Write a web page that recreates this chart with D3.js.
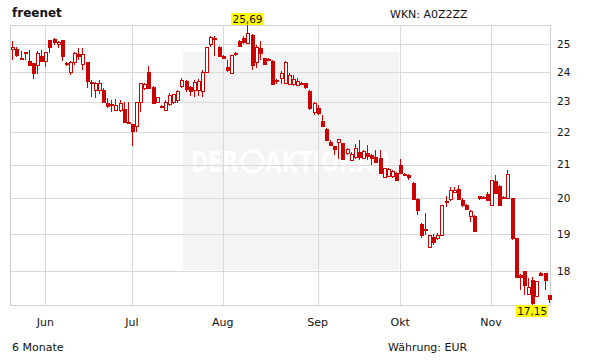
<!DOCTYPE html>
<html>
<head>
<meta charset="utf-8">
<script src="https://cdn.jsdelivr.net/npm/d3@7"></script>
<style>
    body { margin: 0; background: #fff; }
    svg text { font-family: "DejaVu Sans", Verdana, sans-serif; fill: #111; }
</style>
</head>
<body>
<svg id="chart" width="611" height="364"></svg>
<script>
// freenet - 6 Monate Kerzenchart (D3.js v7)

const opens = [
    24.81, 24.82, 24.50, 24.70, 24.39, 24.31, 24.25, 24.57, 24.39, 25.15,
    25.18, 24.99, 25.15, 24.32, 23.99, 24.35, 24.62, 24.29, 24.35, 23.67,
    23.39, 23.39, 23.39, 22.97, 22.92, 22.73, 22.73, 22.76, 22.35, 22.27,
    22.22, 23.00, 23.46, 24.02, 23.50, 22.98, 22.87, 22.73, 22.91, 23.00,
    23.06, 23.51, 23.70, 23.50, 23.39, 23.39, 23.37, 24.02, 24.99, 25.23,
    24.88, 24.55, 24.19, 23.97, 24.66, 25.11, 25.21, 25.03, 25.33, 24.37,
    24.85, 24.49, 24.46, 24.39, 23.72, 23.80, 23.62, 23.60, 23.60, 23.56,
    23.62, 23.62, 23.37, 22.67, 22.78, 22.37, 22.10, 21.70, 21.56, 21.71,
    21.66, 21.37, 21.14, 21.22, 21.38, 21.19, 21.37, 21.30, 21.24, 21.21,
    20.62, 20.65, 20.66, 20.74, 20.99, 20.72, 20.69, 20.46, 19.99, 19.27,
    19.15, 18.65, 18.92, 18.88, 18.97, 19.93, 19.98, 20.19, 20.29, 19.97,
    19.82, 19.50, 19.50, 20.07, 20.05, 20.12, 19.81, 20.51, 20.37, 20.05,
    20.02, 20.00, 18.88, 17.92, 18.00, 17.43, 17.78, 17.38, 17.95, 17.95,
    17.39
];
const highs = [
    25.11, 24.89, 24.75, 24.71, 24.78, 24.32, 24.76, 24.78, 24.72, 25.15,
    25.22, 25.11, 25.15, 24.36, 24.39, 24.71, 24.86, 24.85, 24.36, 23.73,
    23.66, 23.73, 23.46, 23.12, 23.06, 23.09, 23.06, 23.00, 23.00, 22.28,
    23.00, 23.62, 23.62, 24.22, 23.52, 23.16, 22.89, 23.06, 23.29, 23.26,
    23.39, 23.80, 23.73, 23.52, 23.73, 23.77, 24.08, 24.89, 25.29, 25.29,
    24.93, 24.61, 24.43, 24.61, 24.71, 25.15, 25.29, 25.69, 25.36, 24.96,
    25.12, 24.50, 24.50, 24.43, 23.77, 24.04, 24.39, 23.97, 23.90, 23.80,
    23.66, 23.63, 23.39, 22.99, 22.89, 22.56, 22.14, 21.76, 21.58, 21.79,
    21.67, 21.51, 21.38, 21.64, 21.76, 21.45, 21.60, 21.33, 21.45, 21.45,
    20.90, 20.89, 20.85, 20.77, 21.16, 20.75, 20.72, 20.48, 20.00, 19.31,
    19.58, 18.97, 18.99, 19.02, 19.81, 20.06, 20.33, 20.34, 20.39, 20.00,
    19.84, 19.67, 19.53, 20.07, 20.07, 20.20, 20.54, 20.69, 20.39, 20.07,
    20.84, 20.00, 18.90, 17.93, 18.00, 17.82, 17.85, 17.75, 17.98, 17.96,
    17.39
];
const lows = [
    24.43, 24.53, 24.44, 24.43, 24.25, 23.77, 23.92, 24.39, 24.18, 24.68,
    24.96, 24.86, 24.40, 24.22, 23.90, 24.25, 24.43, 24.08, 23.45, 23.17,
    23.13, 23.26, 22.99, 22.80, 22.66, 22.69, 22.66, 22.35, 22.30, 21.56,
    22.02, 22.67, 23.39, 23.45, 22.94, 22.96, 22.82, 22.69, 22.86, 22.93,
    22.96, 23.45, 23.33, 23.19, 23.16, 23.19, 23.16, 24.00, 24.90, 24.55,
    24.53, 24.46, 24.02, 23.97, 24.57, 24.89, 25.00, 25.02, 24.08, 24.13,
    24.43, 24.25, 24.39, 23.60, 23.60, 23.60, 23.60, 23.56, 23.53, 23.53,
    23.56, 23.43, 22.73, 22.56, 22.56, 22.18, 21.73, 21.58, 21.30, 21.18,
    21.14, 21.30, 21.11, 21.18, 21.14, 21.17, 21.14, 20.99, 21.06, 20.72,
    20.61, 20.63, 20.60, 20.52, 20.74, 20.65, 20.54, 19.99, 19.53, 18.88,
    18.97, 18.62, 18.70, 18.83, 18.94, 19.76, 19.93, 20.15, 19.96, 19.76,
    19.67, 19.34, 19.08, 19.95, 19.98, 19.95, 19.81, 20.15, 19.81, 19.98,
    19.99, 18.83, 17.84, 17.52, 17.40, 17.39, 17.15, 17.36, 17.88, 17.52,
    17.20
];
const closes = [
    24.88, 24.59, 24.45, 24.67, 24.25, 23.98, 24.67, 24.39, 24.72, 24.88,
    25.08, 25.08, 24.57, 24.29, 24.37, 24.69, 24.58, 24.64, 23.71, 23.62,
    23.62, 23.64, 23.00, 22.87, 22.89, 22.89, 22.97, 22.35, 22.32, 22.05,
    23.00, 23.62, 23.59, 23.45, 22.95, 23.15, 22.84, 23.00, 23.22, 23.25,
    23.36, 23.73, 23.42, 23.36, 23.66, 23.70, 24.02, 24.88, 25.26, 25.16,
    24.57, 24.49, 24.08, 24.61, 24.63, 24.93, 25.05, 25.41, 24.25, 24.88,
    24.67, 24.28, 24.43, 23.60, 23.68, 23.98, 24.37, 23.90, 23.76, 23.71,
    23.59, 23.48, 22.78, 22.97, 22.62, 22.21, 21.76, 21.60, 21.48, 21.78,
    21.16, 21.47, 21.34, 21.50, 21.22, 21.42, 21.25, 21.19, 21.09, 20.74,
    20.89, 20.86, 20.82, 20.55, 20.74, 20.69, 20.64, 19.99, 19.67, 18.97,
    19.10, 18.97, 18.79, 18.97, 19.81, 19.89, 20.25, 20.26, 19.99, 19.82,
    19.69, 19.64, 19.08, 20.00, 20.00, 19.95, 20.54, 20.17, 19.81, 20.00,
    20.71, 18.88, 17.86, 17.86, 17.65, 17.60, 17.19, 17.75, 17.92, 17.78,
    17.31
];

const monthLabels = ['Jun', 'Jul', 'Aug', 'Sep', 'Okt', 'Nov'];
const monthIdx = [8, 29, 51, 74, 94, 116];
const priceTicks = [18, 19, 20, 21, 22, 23, 24, 25];

const RED = '#cc0000';
const GRID = '#d9d9d9';

const plot = { left: 10, right: 550, top: 25, bottom: 305 };

const de = d3.formatLocale({ decimal: ',', thousands: '.', grouping: [3], currency: ['', ' €'] });
const fmt2 = de.format('.2f');

const svg = d3.select('#chart');

const candles = opens.map((o, i) => ({ i, o, h: highs[i], l: lows[i], c: closes[i] }));

const x = d3.scaleLinear()
    .domain([0, candles.length - 1])
    .range([12.3, 548.7]);

const y = d3.scaleLog()
    .domain([d3.min(lows), d3.max(highs)])
    .range([plot.bottom, plot.top]);

const px = v => Math.round(v) + 0.5;

// Watermark box
svg.append('rect')
    .attr('x', 183).attr('y', 52)
    .attr('width', 216).attr('height', 218)
    .attr('fill', '#f4f4f4');

const wm = svg.append('g').attr('fill', '#fff');
wm.append('text')
    .attr('x', 191).attr('y', 172)
    .attr('font-size', 29).attr('font-weight', 'bold')
    .attr('textLength', 47).attr('lengthAdjust', 'spacingAndGlyphs')
    .style('fill', '#fff')
    .text('DER');
wm.append('circle')
    .attr('cx', 252.5).attr('cy', 161.5).attr('r', 10.5)
    .attr('fill', 'none').attr('stroke', '#fff').attr('stroke-width', 3);
wm.append('text')
    .attr('x', 265).attr('y', 172)
    .attr('font-size', 29).attr('font-weight', 'bold')
    .attr('textLength', 125).attr('lengthAdjust', 'spacingAndGlyphs')
    .style('fill', '#fff')
    .text('AKTIONÄR');

// Grid
const grid = svg.append('g')
    .attr('stroke', GRID)
    .attr('stroke-width', 1)
    .attr('shape-rendering', 'crispEdges');

grid.selectAll('line.h')
    .data(priceTicks)
    .join('line')
    .attr('class', 'h')
    .attr('x1', plot.left).attr('x2', plot.right)
    .attr('y1', d => px(y(d))).attr('y2', d => px(y(d)));

grid.selectAll('line.v')
    .data(monthIdx)
    .join('line')
    .attr('class', 'v')
    .attr('x1', d => px(x(d))).attr('x2', d => px(x(d)))
    .attr('y1', plot.top).attr('y2', plot.bottom);

// Frame
svg.append('rect')
    .attr('x', plot.left + 0.5).attr('y', plot.top + 0.5)
    .attr('width', plot.right - plot.left).attr('height', plot.bottom - plot.top)
    .attr('fill', 'none')
    .attr('stroke', '#cfcfcf')
    .attr('shape-rendering', 'crispEdges');

// Candles
const cg = svg.append('g').attr('shape-rendering', 'crispEdges');

const candle = cg.selectAll('g')
    .data(candles)
    .join('g');

candle.append('line')
    .attr('x1', d => px(x(d.i))).attr('x2', d => px(x(d.i)))
    .attr('y1', d => Math.round(y(d.h))).attr('y2', d => Math.round(y(d.l)))
    .attr('stroke', RED);

candle.append('rect')
    .attr('x', d => Math.round(x(d.i)) - 1)
    .attr('y', d => Math.round(y(Math.max(d.o, d.c))) + 0.5)
    .attr('width', 3)
    .attr('height', d => Math.max(1, Math.round(y(Math.min(d.o, d.c))) - Math.round(y(Math.max(d.o, d.c)))))
    .attr('fill', d => d.c >= d.o ? '#fff' : RED)
    .attr('stroke', RED)
    .attr('stroke-width', 1);

// Y axis labels
svg.append('g')
    .selectAll('text')
    .data(priceTicks)
    .join('text')
    .attr('x', 557)
    .attr('y', d => y(d))
    .attr('dy', '0.36em')
    .attr('font-size', 10.5)
    .text(d => d);

// X axis labels
svg.append('g')
    .selectAll('text')
    .data(monthLabels)
    .join('text')
    .attr('x', (d, k) => x(monthIdx[k]))
    .attr('y', 326)
    .attr('text-anchor', 'middle')
    .attr('font-size', 11)
    .text(d => d);

// High / low markers
const hiIdx = d3.maxIndex(highs);
const loIdx = d3.minIndex(lows);

function marker(idx, value, above) {
    const w = 32, h = 12;
    const cx = x(idx);
    const top = above ? Math.round(y(value)) - h : Math.round(y(value));
    const g = svg.append('g');
    g.append('rect')
        .attr('x', Math.round(cx - w / 2)).attr('y', top)
        .attr('width', w).attr('height', h)
        .attr('fill', '#ffff00');
    g.append('text')
        .attr('x', cx).attr('y', top + h - 2)
        .attr('text-anchor', 'middle')
        .attr('font-size', 10.5)
        .text(fmt2(value));
}
marker(hiIdx, highs[hiIdx], true);
marker(loIdx, lows[loIdx], false);

// Titles
svg.append('text')
    .attr('x', 12).attr('y', 17)
    .attr('font-size', 12).attr('font-weight', 'bold')
    .text('freenet');

svg.append('text')
    .attr('x', 390).attr('y', 18)
    .attr('font-size', 11)
    .text('WKN: A0Z2ZZ');

svg.append('text')
    .attr('x', 12).attr('y', 351)
    .attr('font-size', 11)
    .text('6 Monate');

svg.append('text')
    .attr('x', 388).attr('y', 351)
    .attr('font-size', 11)
    .text('Währung: EUR');
</script>
</body>
</html>
